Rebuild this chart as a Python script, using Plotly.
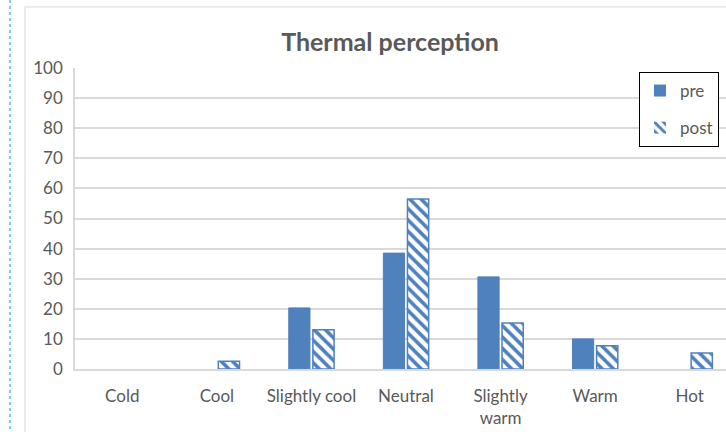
import plotly.graph_objects as go

categories = ["Cold", "Cool", "Slightly cool", "Neutral", "Slightly<br>warm", "Warm", "Hot"]
pre = [0, 0, 20.3, 38.5, 30.6, 10.0, 0]
post = [0, 2.6, 13.0, 56.5, 15.3, 7.7, 5.3]
y_ticks = [0, 10, 20, 30, 40, 50, 60, 70, 80, 90, 100]

BLUE = "#4F81BD"
GRAY_TXT = "#595959"
FONT = "Lato, 'Open Sans', sans-serif"

W, H = 726, 432
L, R, T, B = 75, 0, 68, 63
pw = W - L - R
ph = H - T - B

def px_x(x):
    return (x - L) / pw

def px_y(y):
    return (H - B - y) / ph

fig = go.Figure()
fig.add_trace(go.Bar(
    x=categories, y=pre, name="pre", legendgroup="a",
    marker=dict(color=BLUE, line=dict(color=BLUE, width=[0 if v == 0 else 1 for v in pre])),
))
fig.add_trace(go.Bar(
    x=categories, y=post, name="post", legendgroup="b",
    marker=dict(color="white", line=dict(color=BLUE, width=[0 if v == 0 else 1.5 for v in post]),
                pattern=dict(shape="\\", fgcolor=BLUE, bgcolor="white",
                             size=8, solidity=0.45, fillmode="replace")),
))

shapes = [
    dict(type="line", xref="paper", yref="paper", x0=px_x(25), x1=px_x(W + 5),
         y0=px_y(7), y1=px_y(7), line=dict(color="#d9d9d9", width=1)),
    dict(type="line", xref="paper", yref="paper", x0=px_x(25), x1=px_x(25),
         y0=px_y(7), y1=px_y(H + 5), line=dict(color="#d9d9d9", width=1)),
    dict(type="line", xref="paper", yref="paper", x0=px_x(10), x1=px_x(10),
         y0=px_y(0), y1=px_y(H + 5), line=dict(color="#4fc3c3", width=1.5, dash="dot")),
]

fig.update_layout(
    width=W, height=H,
    margin=dict(l=L, r=R, t=T, b=B, pad=0),
    paper_bgcolor="white", plot_bgcolor="white",
    font=dict(family=FONT, color=GRAY_TXT, size=17),
    title=dict(text="<b>Thermal perception</b>", x=px_x(390), xref="paper",
               xanchor="center", y=1 - 42 / H, yanchor="middle",
               font=dict(size=25, color=GRAY_TXT, family=FONT)),
    barmode="group", bargap=0.49, bargroupgap=0.12,
    xaxis=dict(range=[-0.5, 6.5 - 11 / 94.6], showgrid=False, showline=True,
               linecolor="#d9d9d9", linewidth=1.5, ticks="", tickfont=dict(size=17),
               ticklabelstandoff=11),
    yaxis=dict(range=[0, 100], tickvals=y_ticks, showgrid=True, gridcolor="#d9d9d9",
               gridwidth=1.5, showline=True, linecolor="#d9d9d9", linewidth=1.5,
               ticks="", tickfont=dict(size=17), zeroline=False, ticklabelstandoff=7),
    legend=dict(x=px_x(719), y=px_y(72), xanchor="right", yanchor="top",
                bordercolor="black", borderwidth=1, bgcolor="white",
                font=dict(size=17, color=GRAY_TXT), tracegroupgap=12,
                itemwidth=30),
    shapes=shapes,
)

fig.write_html("out.html", config={"displayModeBar": False},
               post_script="document.body.style.margin='0';")
